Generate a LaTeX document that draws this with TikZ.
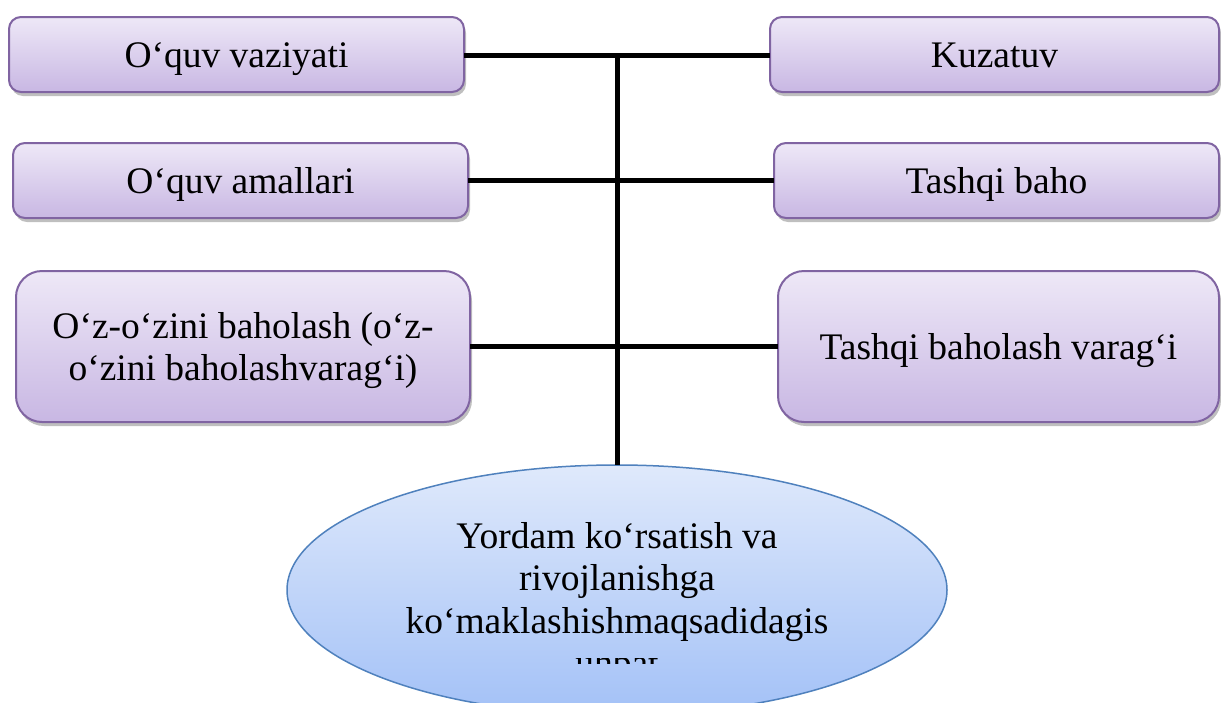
\documentclass[tikz,border=0pt]{standalone}
\usepackage{fontspec}
\setmainfont{Liberation Serif}
\usetikzlibrary{shapes.geometric,shadows}
\definecolor{boxborder}{HTML}{8064A2}
\definecolor{boxtop}{HTML}{EEE8F7}
\definecolor{boxbot}{HTML}{C8B7E3}
\definecolor{ellborder}{HTML}{4F81BD}
\definecolor{elltop}{HTML}{DFE9FB}
\definecolor{ellbot}{HTML}{A3C1F7}
\tikzset{
  bigfont/.style={font=\fontsize{37.5}{42}\selectfont},
  purplebox/.style={draw=boxborder, line width=2pt, rounded corners=12pt,
    top color=boxtop, bottom color=boxbot, inner sep=0pt, outer sep=0pt,
    align=center, bigfont, text height=28pt, text depth=3pt,
    drop shadow={shadow xshift=2pt, shadow yshift=-4pt, opacity=0.25, fill=black}},
  bigbox/.style={purplebox, rounded corners=26pt},
  goalell/.style={ellipse, draw=ellborder, line width=1.5pt,
    top color=elltop, bottom color=ellbot, inner sep=0pt, outer sep=0pt},
  elltext/.style={bigfont, inner sep=0pt, anchor=base},
  link/.style={line width=5pt, black}
}
\begin{document}
\begin{tikzpicture}[x=1pt,y=-1pt]
\clip (0,0) rectangle (1221,702);
\fill[white] (0,0) rectangle (1221,702);
% left column
\node[purplebox, minimum width=455pt, minimum height=75pt] (b1) at (236.5,54.5) {O‘quv vaziyati};
\node[purplebox, minimum width=455pt, minimum height=75pt] (b2) at (240.5,180.5) {O‘quv amallari};
\node[bigbox, minimum width=454pt, minimum height=151pt,
  label={[bigfont, align=center, inner sep=0pt, yshift=-4pt]center:O‘z-o‘zini baholash (o‘z-\\o‘zini baholashvarag‘i)}] (b3) at (243,346.5) {};
% right column
\node[purplebox, minimum width=449pt, minimum height=75pt] (b4) at (994.5,54.5) {Kuzatuv};
\node[purplebox, minimum width=445pt, minimum height=75pt] (b5) at (996.5,180.5) {Tashqi baho};
\node[bigbox, minimum width=441pt, minimum height=151pt] (b6) at (998.5,346.5) {Tashqi baholash varag‘i};
% ellipse
\node[goalell, minimum width=660pt, minimum height=250pt] (goal) at (617,590) {};
\node[elltext] (g1) at (617,548) {Yordam ko‘rsatish va};
\node[elltext] (g2) at (617,590) {rivojlanishga};
\node[elltext] (g3) at (617,633) {ko‘maklashishmaqsadidagis};
\begin{scope}
\clip (0,658) rectangle (1221,663);
\node[elltext] (g4) at (617,675) {uhbat};
\end{scope}
% connectors
\coordinate (jt) at (617,55);
\draw[link] (b1.east |- 0,55) -- (b4.west |- 0,55);
\draw[link] (b2.east) -- (b5.west);
\draw[link] (b3.east) -- (b6.west);
\draw[link] (jt) -- (goal.north);
\end{tikzpicture}
\end{document}
